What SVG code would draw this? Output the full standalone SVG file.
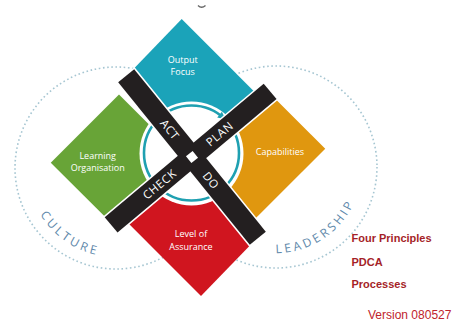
<svg xmlns="http://www.w3.org/2000/svg" width="456" height="322" viewBox="0 0 456 322">
<style>
.dot{fill:none;stroke:#a6c6d2;stroke-width:1.6;stroke-dasharray:1.6 2.6}
.lbl{font-family:"Open Sans","Liberation Sans",sans-serif;font-size:9px;fill:#fff;text-anchor:middle}
.bar{fill:#231f20}
.barw{fill:none;stroke:#fff;stroke-width:3}
.pdca{font-family:"Open Sans","Liberation Sans",sans-serif;font-size:11.5px;fill:#fff;text-anchor:middle;letter-spacing:0.6px}
.arc{font-family:"Open Sans","Liberation Sans",sans-serif;font-size:12px;fill:#5e88aa;letter-spacing:3px}
.side{font-family:"Liberation Sans",Arial,sans-serif;font-size:11px;font-weight:bold;fill:#a51f28}
</style>
<defs>
<path id="pc" d="M30.03,191.03 A89,89 0 0 0 123.76,256.66"/>
<path id="pl" d="M265.5,252.4 A86,86 0 0 0 358.2,192.1"/>
</defs>
<rect width="456" height="322" fill="#fff"/>
<path d="M198,5.5 Q201.5,9 205.5,5.5" fill="none" stroke="#666" stroke-width="1.4"/>
<g id="culture">
<circle class="dot" cx="116" cy="168" r="101"/>
<text class="arc"><textPath href="#pc" startOffset="50%" text-anchor="middle">CULTURE</textPath></text>
</g>
<g id="leadership">
<circle class="dot" cx="276" cy="167" r="101"/>
<text class="arc"><textPath href="#pl" startOffset="50%" text-anchor="middle">LEADERSHIP</textPath></text>
</g>
<g id="output-focus">
<polygon points="181.7,19 261.4,98.7 192,157 126.5,76.2" fill="#1ba3b9"/>
<text class="lbl" x="182.7" y="63">Output</text>
<text class="lbl" x="182.7" y="74.5">Focus</text>
</g>
<g id="learning-organisation">
<polygon points="50.75,162.75 119,94.5 185,160.5 192,157 112.3,223.9" fill="#68a437"/>
<text class="lbl" x="97.7" y="158.5">Learning</text>
<text class="lbl" x="97.7" y="170.5">Organisation</text>
</g>
<g id="capabilities">
<polygon points="268.9,92.5 325.25,148.75 247.9,226.1 192,157" fill="#e0970f"/>
<text class="lbl" x="280" y="154.5">Capabilities</text>
</g>
<g id="level-of-assurance">
<polygon points="121.3,216.3 192,157 257.4,237.8 201,296" fill="#d0151f"/>
<text class="lbl" x="191" y="237">Level of</text>
<text class="lbl" x="191" y="249.5">Assurance</text>
</g>
<g id="pdca">
<circle cx="191.5" cy="153.5" r="52" fill="#fff"/>
<circle cx="191.5" cy="153" r="47.5" fill="none" stroke="#1fa0b1" stroke-width="2.6"/>
<polygon points="225.6,119.6 221.9,111.8 217.2,117.6" fill="#1fa0b1"/>
<g transform="translate(192,157) rotate(51)"><rect class="barw" x="-104.6" y="-10.3" width="209.2" height="20.6"/></g>
<g transform="translate(192,157) rotate(140)"><rect class="barw" x="-102" y="-10" width="207.6" height="20"/></g>
<g transform="translate(192,157) rotate(51)"><rect class="bar" x="-104.6" y="-10.3" width="209.2" height="20.6"/></g>
<g transform="translate(192,157) rotate(140)"><rect class="bar" x="-102" y="-10" width="207.6" height="20"/></g>
<rect x="-4.3" y="-4.3" width="8.6" height="8.6" fill="#fff" transform="translate(192,157) rotate(51)"/>
<text class="pdca" transform="translate(169.8,129.6) rotate(51)" dy="0.36em">ACT</text>
<text class="pdca" transform="translate(211,180.5) rotate(51)" dy="0.36em">DO</text>
<text class="pdca" transform="translate(219.6,133.9) rotate(-40)" dy="0.36em">PLAN</text>
<text class="pdca" transform="translate(159.5,184.2) rotate(-40)" dy="0.36em">CHECK</text>
</g>
<g id="notes">
<text class="side" x="351.5" y="242">Four Principles</text>
<text class="side" x="351.5" y="265.5">PDCA</text>
<text class="side" x="351.5" y="287.5">Processes</text>
<text x="368" y="319" font-family="'Liberation Sans',Arial,sans-serif" font-size="12" fill="#c0232c">Version 080527</text>
</g>
</svg>
